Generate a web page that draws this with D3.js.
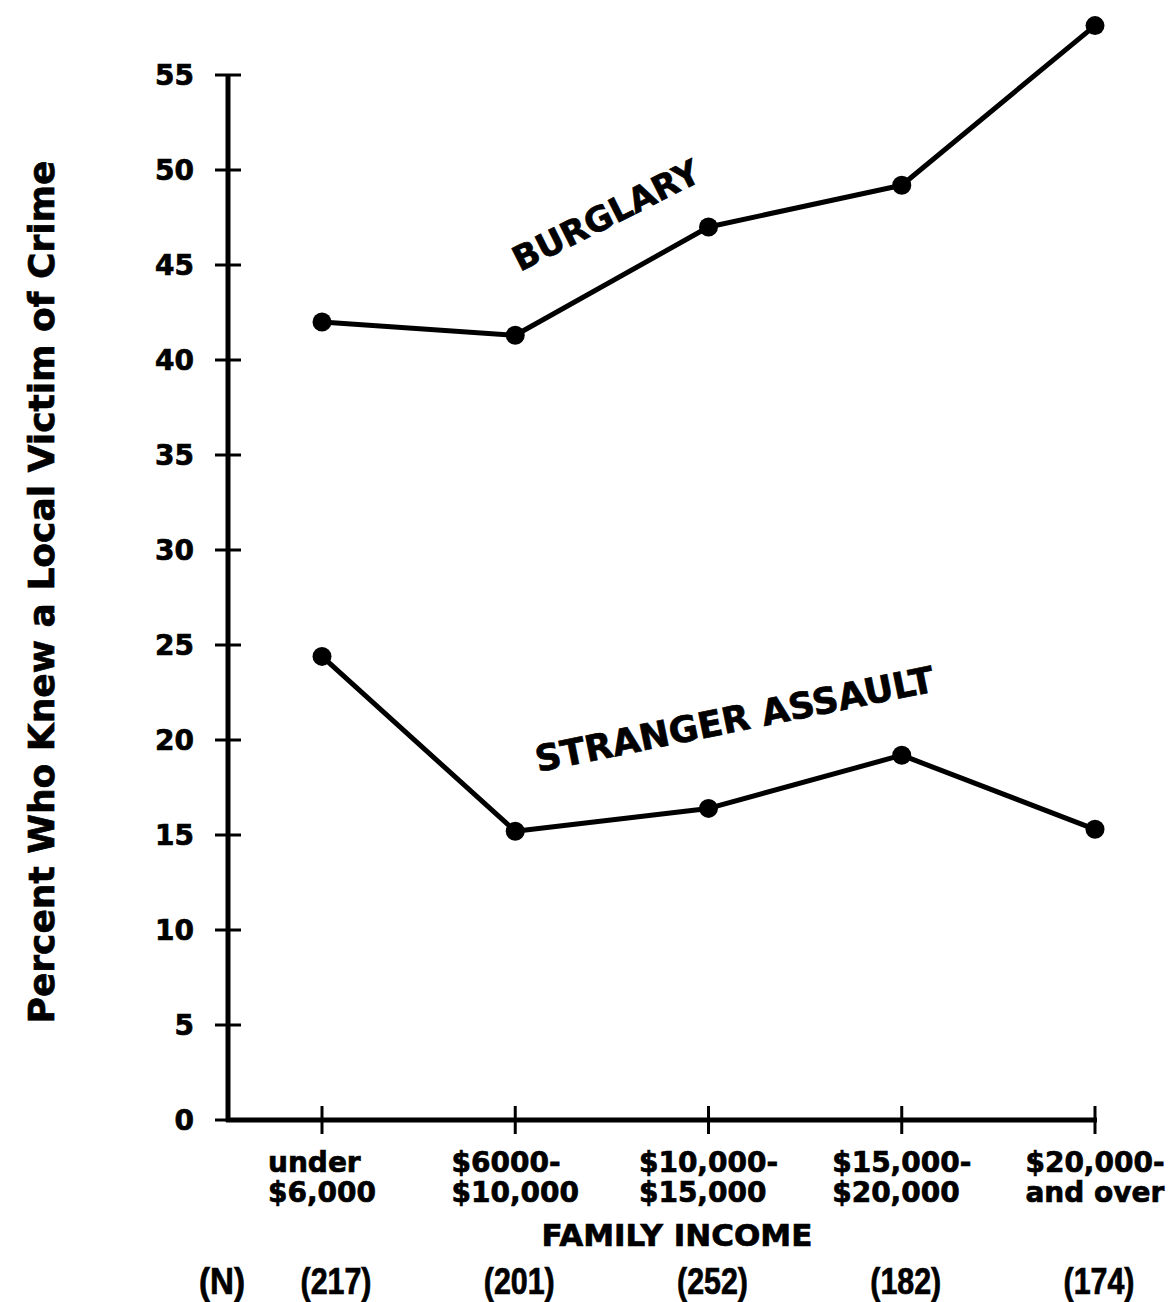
<!DOCTYPE html>
<html><head><meta charset="utf-8">
<script src="https://cdn.jsdelivr.net/npm/d3@7"></script>
<style>
html,body{margin:0;padding:0;background:#fff;}
svg text{font-family:"DejaVu Sans",sans-serif;font-weight:bold;fill:#000;stroke:#000;stroke-width:0.7px;}
</style></head>
<body>
<svg id="chart" width="1174" height="1302"></svg>
<script>
const categories = ["under $6,000", "$6000-$10,000", "$10,000-$15,000", "$15,000-$20,000", "$20,000-and over"];
const categoryLines = [["under", "$6,000"], ["$6000-", "$10,000"], ["$10,000-", "$15,000"], ["$15,000-", "$20,000"], ["$20,000-", "and over"]];
const burglary = [42.0, 41.3, 47.0, 49.2, 57.6];
const strangerAssault = [24.4, 15.2, 16.4, 19.2, 15.3];
const sampleN = ["(217)", "(201)", "(252)", "(182)", "(174)"];
const yTicks = [0, 5, 10, 15, 20, 25, 30, 35, 40, 45, 50, 55];

const svg = d3.select("#chart");
const axisX = 228, axisY = 1120;
const y = d3.scaleLinear().domain([0, 55]).range([axisY, 75]);
const x = d3.scalePoint().domain(categories).range([322, 1095]);

const g = svg.append("g");

// Y axis line
g.append("line").attr("x1", axisX).attr("x2", axisX).attr("y1", y(55)).attr("y2", axisY + 2)
  .attr("stroke", "#000").attr("stroke-width", 5);
// X axis line
g.append("line").attr("x1", axisX - 2).attr("x2", x(categories[4]) + 2).attr("y1", axisY).attr("y2", axisY)
  .attr("stroke", "#000").attr("stroke-width", 5);

// Y ticks
g.selectAll(".yt").data(yTicks).join("line")
  .attr("x1", axisX - 13).attr("x2", axisX + 13)
  .attr("y1", d => y(d)).attr("y2", d => y(d))
  .attr("stroke", "#000").attr("stroke-width", 3);
g.selectAll(".yl").data(yTicks).join("text")
  .attr("x", axisX - 34).attr("y", d => y(d) + 10)
  .attr("text-anchor", "end").attr("font-size", 28)
  .text(d => d);

// X ticks
g.selectAll(".xt").data(categories).join("line")
  .attr("x1", d => x(d)).attr("x2", d => x(d))
  .attr("y1", axisY - 14).attr("y2", axisY + 14)
  .attr("stroke", "#000").attr("stroke-width", 3);

// X tick labels (two lines, left aligned within a centred block)
categories.forEach((c, i) => {
  const grp = g.append("g");
  const t1 = grp.append("text").attr("font-size", 28).attr("y", 1172).text(categoryLines[i][0]);
  const t2 = grp.append("text").attr("font-size", 28).attr("y", 1202).text(categoryLines[i][1]);
  const w = Math.max(t1.node().getComputedTextLength(), t2.node().getComputedTextLength());
  const left = x(c) - w / 2;
  t1.attr("x", left); t2.attr("x", left);
});

// X axis title
g.append("text").attr("x", 677).attr("y", 1246).attr("text-anchor", "middle")
  .attr("font-size", 31).text("FAMILY INCOME");

// N row (tall, condensed lettering)
const nFont = "'Liberation Sans', Arial, sans-serif";
g.append("text").attr("x", 222).attr("y", 1294).attr("text-anchor", "middle")
  .attr("font-size", 36).style("font-family", nFont)
  .attr("textLength", 46).attr("lengthAdjust", "spacingAndGlyphs").text("(N)");
g.selectAll(".nl").data(sampleN).join("text")
  .attr("x", (d, i) => x(categories[i]) + (i === 0 ? 14 : 4)).attr("y", 1294)
  .attr("text-anchor", "middle").attr("font-size", 36).style("font-family", nFont)
  .attr("textLength", 71).attr("lengthAdjust", "spacingAndGlyphs").text(d => d);

// Y axis title
g.append("text").attr("transform", "translate(54,592) rotate(-90)")
  .attr("text-anchor", "middle").attr("font-size", 36)
  .text("Percent Who Knew a Local Victim of Crime");

// Lines
const line = d3.line().x((d, i) => x(categories[i])).y(d => y(d));
[burglary, strangerAssault].forEach(series => {
  g.append("path").datum(series).attr("d", line)
    .attr("fill", "none").attr("stroke", "#000").attr("stroke-width", 5)
    .attr("stroke-linejoin", "round");
  g.selectAll(null).data(series).join("circle")
    .attr("cx", (d, i) => x(categories[i])).attr("cy", d => y(d))
    .attr("r", 9.5).attr("fill", "#000");
});

// Series labels
g.append("text").attr("transform", "translate(520,272) rotate(-26.7)")
  .attr("font-size", 34).text("BURGLARY");
g.append("text").attr("transform", "translate(538,772) rotate(-11.5)")
  .attr("font-size", 36).text("STRANGER ASSAULT");
</script>
</body></html>
